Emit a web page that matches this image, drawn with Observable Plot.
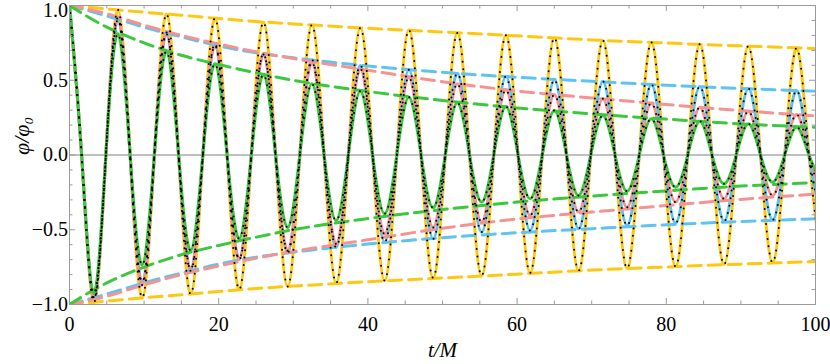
<!DOCTYPE html>
<html><head><meta charset="utf-8">
<script src="https://cdn.jsdelivr.net/npm/d3@7"></script>
<script src="https://cdn.jsdelivr.net/npm/@observablehq/plot@0.6"></script>
<style>
html,body{margin:0;padding:0;background:#fff;}
</style></head><body><div id="chart"></div>
<script>
// ---- data ----
// times of the peaks / troughs of the oscillations
const extremumTimes = [0, 3.25, 6.5, 9.75, 13, 16.25, 19.5, 22.75, 26, 29.25, 32.5, 35.75, 39, 42.25, 45.5, 48.75, 52, 55.25, 58.5, 61.75, 65, 68.25, 71.5, 74.75, 78, 81.25, 84.5, 87.75, 91, 94.25, 97.5, 100.75];
// signed peak / trough values of each curve
const yellowExtrema = [1, -0.985, 0.97, -0.955, 0.943, -0.93, 0.915, -0.90, 0.888, -0.879, 0.871, -0.856, 0.851, -0.84, 0.837, -0.822, 0.817, -0.807, 0.801, -0.788, 0.784, -0.774, 0.766, -0.758, 0.753, -0.746, 0.741, -0.733, 0.728, -0.719, 0.714, -0.708];
const blueExtrema = [1, -0.95, 0.905, -0.85, 0.81, -0.765, 0.732, -0.695, 0.672, -0.655, 0.637, -0.617, 0.599, -0.583, 0.57, -0.561, 0.547, -0.516, 0.525, -0.505, 0.503, -0.494, 0.492, -0.472, 0.472, -0.456, 0.458, -0.443, 0.445, -0.434, 0.431, -0.425];
const pinkExtrema = [1, -0.965, 0.918, -0.87, 0.82, -0.775, 0.744, -0.70, 0.677, -0.64, 0.621, -0.594, 0.577, -0.53, 0.52, -0.485, 0.476, -0.449, 0.436, -0.405, 0.403, -0.382, 0.376, -0.349, 0.347, -0.315, 0.32, -0.293, 0.293, -0.271, 0.271, -0.255];
const greenExtrema = [1, -0.925, 0.81, -0.735, 0.694, -0.64, 0.61, -0.56, 0.538, -0.485, 0.476, -0.438, 0.427, -0.393, 0.387, -0.353, 0.349, -0.315, 0.324, -0.293, 0.298, -0.271, 0.264, -0.242, 0.242, -0.215, 0.226, -0.193, 0.209, -0.182, 0.186, -0.175];
// dashed envelopes (magnitude, drawn above and below)
const envelopeTimes = [0, 5, 10, 15, 20, 25, 30, 40, 50, 60, 70, 80, 90, 100];
const yellowEnvelope = [1.0, 0.977, 0.955, 0.935, 0.913, 0.893, 0.877, 0.848, 0.823, 0.797, 0.77, 0.749, 0.73, 0.712];
const blueEnvelope = [1.0, 0.93, 0.855, 0.79, 0.73, 0.683, 0.65, 0.596, 0.553, 0.52, 0.493, 0.467, 0.445, 0.427];
const pinkEnvelope = [1.0, 0.945, 0.868, 0.8, 0.742, 0.69, 0.645, 0.567, 0.49, 0.428, 0.382, 0.338, 0.297, 0.262];
const greenEnvelope = [1.0, 0.855, 0.75, 0.667, 0.605, 0.55, 0.5, 0.425, 0.365, 0.315, 0.275, 0.24, 0.208, 0.185];
// axes
const xTicks = [0, 20, 40, 60, 80, 100];
const xMinorTicks = [0, 5, 10, 15, 20, 25, 30, 35, 40, 45, 50, 55, 60, 65, 70, 75, 80, 85, 90, 95, 100];
const yTicks = [-1, -0.5, 0, 0.5];
const yTopTick = [1];
const yMinorTicks = [-1, -0.9, -0.8, -0.7, -0.6, -0.5, -0.4, -0.3, -0.2, -0.1, 0, 0.1, 0.2, 0.3, 0.4, 0.5, 0.6, 0.7, 0.8, 0.9, 1];
const xLabel = "t/M";
const yLabel = "φ/φ₀";

// ---- styling ----
const W = 830, H = 364;
const mL = 69, mR = 15, mT = 5, mB = 60;
const pw = W - mL - mR, ph = H - mT - mB;
const C = {yellow: "#FFC810", blue: "#5EC3F2", pink: "#F49390", green: "#3CC83C"};
const frameColor = "#9a9a9a";

// table: extrema plus the zero crossing between them
function curveRows(values) {
  const rows = [];
  for (let i = 0; i < extremumTimes.length; i++) {
    rows.push({t: extremumTimes[i], v: values[i]});
    if (i < extremumTimes.length - 1) rows.push({t: (extremumTimes[i] + extremumTimes[i + 1]) / 2, v: 0});
  }
  return rows;
}
function envRows(values, sign) {
  return envelopeTimes.map((t, i) => ({t, v: sign * values[i]}));
}

const series = [
  {c: C.yellow, ext: yellowExtrema, env: yellowEnvelope},
  {c: C.blue, ext: blueExtrema, env: blueEnvelope},
  {c: C.pink, ext: pinkExtrema, env: pinkEnvelope},
  {c: C.green, ext: greenExtrema, env: greenEnvelope}
];

const marks = [Plot.ruleY([0], {stroke: "#808080", strokeWidth: 1})];
for (const s of series) {
  marks.push(Plot.line(curveRows(s.ext), {x: "t", y: "v", stroke: s.c, strokeWidth: 3, curve: "natural", clip: true}));
}
for (const s of series) {
  for (const sign of [1, -1]) {
    marks.push(Plot.line(envRows(s.env, sign), {x: "t", y: "v", stroke: s.c, strokeWidth: 3, strokeDasharray: "13,7", curve: "monotone-x", clip: true}));
  }
}
for (const s of series) {
  marks.push(Plot.line(curveRows(s.ext), {x: "t", y: "v", stroke: "black", strokeWidth: 2, strokeDasharray: "0,7.5", strokeLinecap: "round", curve: "natural", clip: true}));
}
const majorX = xMinorTicks.filter(d => xTicks.includes(d));
const minorX = xMinorTicks.filter(d => !xTicks.includes(d));
const allMajorY = yTicks.concat(yTopTick);
const majorY = yMinorTicks.filter(d => allMajorY.some(v => Math.abs(v - d) < 1e-9));
const minorY = yMinorTicks.filter(d => !allMajorY.some(v => Math.abs(v - d) < 1e-9));
const tickColor = frameColor;
for (const [list, len] of [[majorX, 6], [minorX, 3.5]]) {
  marks.push(Plot.tickX(list, {x: d => d, insetTop: ph - len, stroke: tickColor}));
  marks.push(Plot.tickX(list, {x: d => d, insetBottom: ph - len, stroke: tickColor}));
}
for (const [list, len] of [[majorY, 6], [minorY, 3.5]]) {
  marks.push(Plot.tickY(list, {y: d => d, insetRight: pw - len, stroke: tickColor}));
  marks.push(Plot.tickY(list, {y: d => d, insetLeft: pw - len, stroke: tickColor}));
}
marks.push(Plot.frame({stroke: frameColor}));
marks.push(Plot.axisX(xTicks, {tickSize: 0, tickPadding: 12, tickFormat: d => String(d), label: null, fontSize: 20}));
marks.push(Plot.axisY(yTicks, {tickSize: 0, tickPadding: 1.5, tickFormat: d3.format(".1f"), label: null, fontSize: 20}));
marks.push(Plot.axisY(yTopTick, {tickSize: 0, tickPadding: 1.5, dy: 5, tickFormat: d3.format(".1f"), label: null, fontSize: 20}));
marks.push(Plot.text([xLabel], {text: d => d, frameAnchor: "bottom", dy: 52, fontStyle: "italic", fontSize: 21}));
marks.push(Plot.text([yLabel], {text: d => d, frameAnchor: "left", dx: -48, rotate: -90, fontStyle: "italic", fontSize: 22}));

const chart = Plot.plot({
  width: W, height: H,
  marginLeft: mL, marginRight: mR, marginTop: mT, marginBottom: mB,
  x: {domain: [0, 100]},
  y: {domain: [-1, 1]},
  style: {fontFamily: "'Liberation Serif', serif", fontSize: "20px", background: "white", color: "black"},
  marks
});
document.getElementById("chart").appendChild(chart);
</script>
</body></html>
